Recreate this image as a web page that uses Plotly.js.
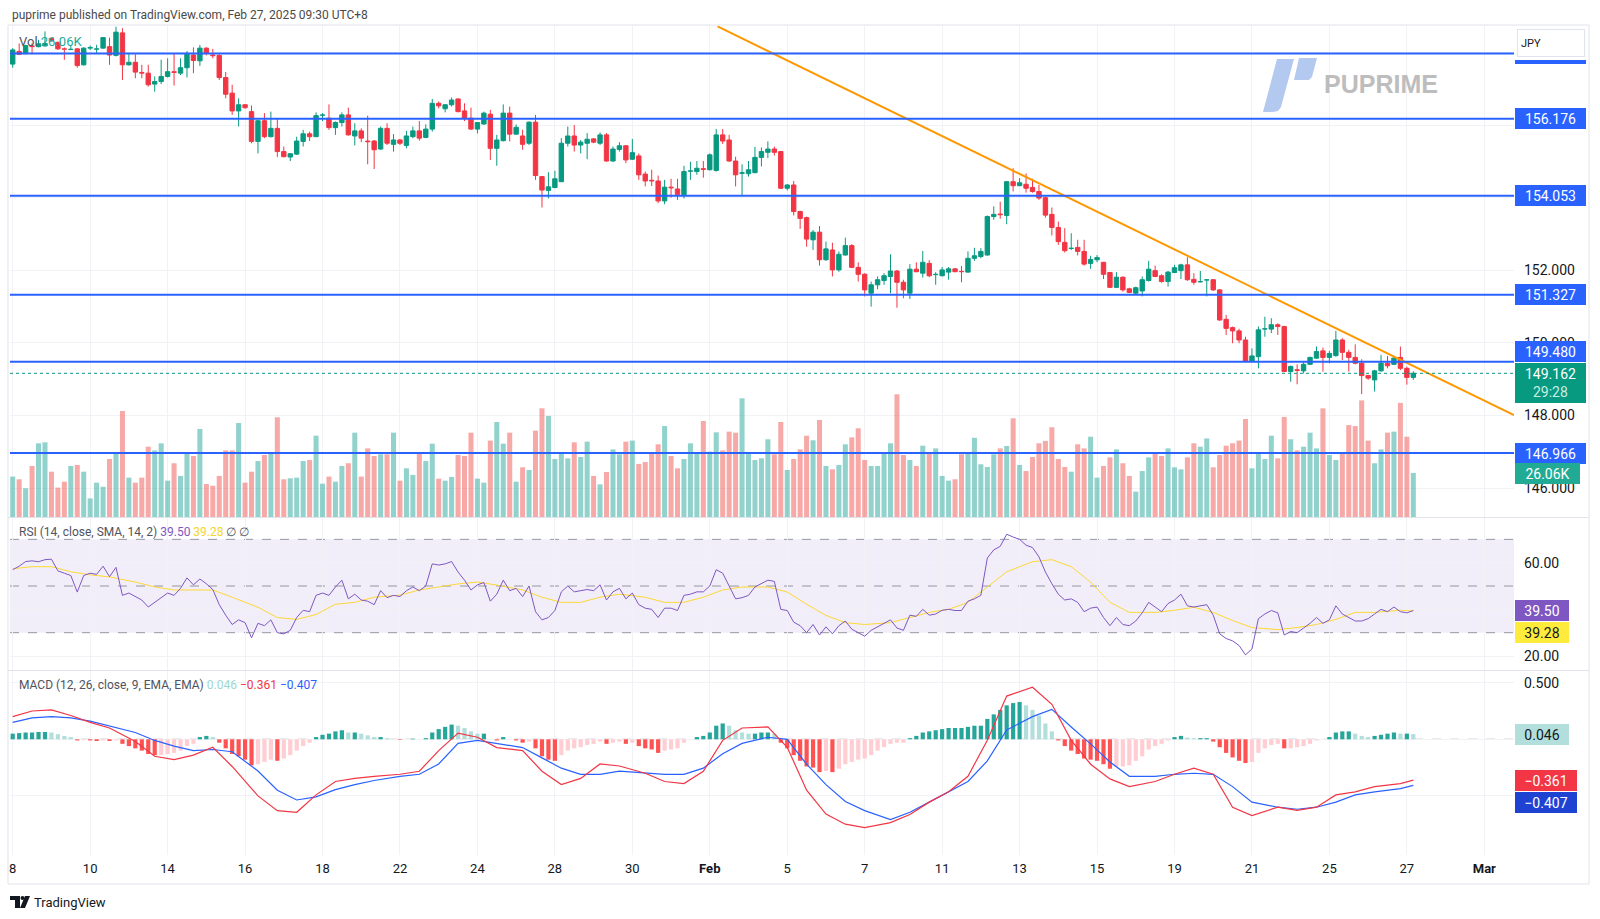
<!DOCTYPE html>
<html><head><meta charset="utf-8">
<script src="https://cdn.plot.ly/plotly-3.0.1.min.js"></script>
<style>html,body{margin:0;padding:0;background:#fff;} #chart{width:1600px;height:919px;}</style>
</head><body><div id="chart"></div>
<script>
// ---------- DATA (USD/JPY 4h candles) ----------
const openP=[157.68,158.03,157.97,158.18,158.16,158.18,158.39,158.28,158.10,158.08,
158.10,157.66,158.12,158.09,158.12,158.16,157.92,158.54,157.66,157.73,
157.45,157.43,157.13,157.20,157.34,157.47,157.43,157.58,157.93,157.77,
158.12,157.93,157.92,157.31,156.88,156.39,156.56,156.37,155.55,156.12,
155.68,155.91,155.27,155.12,155.20,155.55,155.76,155.68,156.27,156.19,
155.93,156.07,156.28,155.70,155.84,155.56,155.56,155.34,155.91,155.47,
155.59,155.44,155.68,155.84,155.66,155.89,156.60,156.45,156.56,156.72,
156.39,156.19,155.89,156.03,156.30,155.36,155.57,156.33,155.75,155.70,
155.50,156.08,154.58,154.20,154.28,154.44,155.50,155.70,155.45,155.50,
155.62,155.50,155.73,155.01,155.33,155.43,155.06,155.15,154.65,154.48,
154.46,153.91,154.29,154.24,154.08,154.73,154.72,154.80,154.77,154.75,
155.73,155.59,155.01,154.67,154.66,154.69,155.11,155.25,155.34,155.27,
154.26,154.35,153.62,153.45,152.84,153.05,152.29,152.56,152.01,152.42,
152.68,152.08,151.89,151.37,151.60,151.72,151.83,151.98,151.67,151.37,
152.03,151.92,152.19,151.88,151.85,151.95,152.04,151.97,151.95,152.33,
152.38,152.42,153.48,153.55,153.51,154.44,154.33,154.37,154.28,154.17,
154.00,153.54,153.18,152.77,152.60,152.63,152.52,152.19,152.29,152.22,
151.94,151.53,151.81,151.49,151.37,151.43,151.72,151.99,151.85,151.69,
151.94,151.99,152.15,151.75,151.68,151.73,151.74,151.46,150.65,150.42,
150.33,150.08,149.50,149.62,150.38,150.38,150.50,150.45,149.21,149.26,
149.23,149.41,149.58,149.78,149.60,149.65,150.08,149.74,149.60,149.44,
149.10,148.98,149.23,149.44,149.41,149.60,149.30,149.05];
const highP=[158.12,158.25,158.21,158.25,158.35,158.58,158.41,158.30,158.14,158.21,
158.12,158.14,158.19,158.21,158.42,158.41,158.71,158.67,157.98,157.95,
157.66,157.66,157.34,157.80,157.84,157.98,157.84,158.04,158.14,158.21,
158.14,158.10,157.95,157.46,157.11,156.74,156.57,156.54,156.14,156.33,
156.37,156.19,155.41,155.22,155.68,155.87,155.82,156.35,156.33,156.57,
156.10,156.35,156.48,156.05,155.91,156.26,155.59,155.96,156.05,155.75,
155.62,155.84,155.96,156.11,156.02,156.72,156.65,156.57,156.76,156.73,
156.60,156.48,156.08,156.37,156.42,155.73,156.57,156.51,156.02,155.87,
156.10,156.28,154.59,154.70,154.74,155.64,155.96,156.00,155.59,155.78,
155.64,155.80,155.78,155.41,155.53,155.45,155.62,155.22,154.72,154.77,
154.61,154.49,154.52,154.52,154.88,154.99,155.01,155.01,155.22,155.89,
155.89,155.73,155.13,154.92,155.01,155.40,155.38,155.55,155.41,155.29,
154.37,154.46,153.64,153.48,153.11,153.22,152.79,152.76,152.52,152.90,
152.72,152.22,151.92,151.69,151.83,151.92,152.44,152.01,151.74,152.17,
152.22,152.53,152.28,151.95,152.09,152.09,152.06,152.12,152.52,152.62,
152.61,153.51,153.76,153.89,154.46,154.81,154.54,154.67,154.52,154.35,
154.03,153.73,153.34,153.16,153.02,152.84,152.84,152.40,152.42,152.23,
151.95,151.95,151.83,151.52,151.55,151.83,152.26,152.13,151.89,151.98,
152.15,152.18,152.36,151.92,151.98,151.76,151.76,151.48,150.77,150.45,
150.39,150.17,149.85,150.45,150.72,150.68,150.54,150.47,149.38,149.41,
149.47,149.62,149.90,149.87,149.78,150.33,150.13,149.81,149.96,149.55,
149.12,149.26,149.67,149.64,149.62,149.90,149.35,149.22];
const lowP=[157.58,157.93,157.95,157.95,158.14,158.16,158.30,158.07,157.80,158.07,
157.58,157.64,158.07,157.98,158.10,157.66,157.89,157.24,157.64,157.29,
157.29,157.06,156.92,157.13,157.31,157.09,157.38,157.31,157.43,157.63,
157.92,157.84,157.24,156.74,156.28,155.96,156.45,155.50,155.22,155.64,
155.66,155.12,155.11,155.01,155.18,155.41,155.56,155.67,156.11,155.87,
155.73,155.96,155.71,155.44,155.53,154.92,154.79,155.32,155.45,155.27,
155.45,155.36,155.64,155.57,155.64,155.82,156.46,156.35,156.51,156.35,
156.11,155.87,155.77,156.01,155.04,154.88,155.55,155.55,155.73,155.32,
155.45,154.49,153.73,153.98,154.26,154.44,155.41,155.27,155.22,155.06,
155.50,155.45,154.99,154.99,155.27,154.95,155.04,154.49,154.31,154.32,
153.85,153.82,154.00,153.94,153.98,154.49,154.63,154.55,154.75,154.72,
155.48,154.99,154.31,154.06,154.58,154.67,154.86,155.09,155.16,154.24,
154.20,153.51,153.14,152.65,152.56,152.13,152.26,151.83,151.96,152.41,
152.06,151.69,151.28,151.00,151.48,151.60,151.37,150.97,151.23,151.21,
151.95,151.80,151.81,151.60,151.83,151.74,151.95,151.67,151.94,152.26,
152.33,152.41,153.39,153.42,153.27,154.17,154.32,154.14,154.14,153.94,
153.45,152.96,152.70,152.49,152.56,152.41,152.13,152.04,152.22,151.76,
151.51,151.51,151.41,151.37,151.34,151.28,151.69,151.81,151.66,151.55,
151.92,151.76,151.71,151.60,151.67,151.28,151.43,150.61,150.22,149.99,
149.99,149.47,149.49,149.30,150.17,150.27,150.22,149.20,148.93,148.86,
149.16,149.39,149.56,149.21,149.44,149.62,149.53,149.21,149.41,148.59,
148.98,148.66,149.21,149.30,149.39,149.25,148.85,148.98];
const closeP=[158.07,157.95,158.19,158.16,158.24,158.25,158.32,158.10,158.09,158.09,
157.64,158.12,158.14,158.10,158.41,157.93,158.56,157.66,157.73,157.46,
157.43,157.11,157.20,157.34,157.47,157.45,157.58,157.95,157.78,158.12,
157.98,157.91,157.31,156.85,156.39,156.56,156.48,155.55,156.12,155.68,
155.91,155.27,155.13,155.21,155.56,155.76,155.68,156.26,156.28,155.93,
156.07,156.28,155.73,155.84,155.64,155.54,155.32,155.91,155.50,155.59,
155.50,155.70,155.84,155.64,155.89,156.60,156.53,156.56,156.69,156.37,
156.19,155.89,156.07,156.33,155.36,155.59,156.33,155.75,155.94,155.47,
156.08,154.61,154.21,154.30,154.52,155.50,155.70,155.45,155.53,155.61,
155.53,155.73,155.01,155.34,155.43,155.04,155.24,154.63,154.46,154.46,
153.91,154.29,154.27,154.09,154.72,154.74,154.81,154.78,155.18,155.73,
155.56,155.01,154.63,154.69,154.77,155.11,155.27,155.34,155.25,154.26,
154.35,153.62,153.43,152.86,153.05,152.29,152.59,152.01,152.44,152.68,
152.08,151.89,151.46,151.60,151.74,151.85,151.98,151.67,151.46,152.03,
151.96,152.22,151.85,151.89,152.01,152.04,151.96,151.96,152.33,152.40,
152.52,153.48,153.54,153.53,154.44,154.33,154.41,154.26,154.17,153.99,
153.52,153.18,152.79,152.54,152.61,152.52,152.17,152.30,152.35,151.89,
151.53,151.81,151.46,151.39,151.52,151.74,152.03,151.83,151.69,151.95,
152.07,152.15,151.74,151.67,151.69,151.74,151.46,150.63,150.40,150.33,
150.08,149.50,149.64,150.36,150.39,150.50,150.45,149.21,149.35,149.24,
149.41,149.60,149.76,149.60,149.71,150.08,149.74,149.60,149.44,149.10,
149.03,149.23,149.44,149.37,149.58,149.30,149.05,149.162];
const volumeK=[23.9,22.3,17.0,30.2,43.6,44.2,26.8,17.4,20.9,30.2,
30.8,26.8,11.0,20.3,17.9,34.3,38.1,62.7,23.3,20.3,
23.3,41.6,39.4,43.6,21.5,31.8,24.3,38.1,36.1,52.1,
19.5,18.5,24.3,39.4,39.4,55.6,20.3,26.8,33.1,36.7,
37.3,59.0,22.3,22.9,23.3,33.1,33.7,48.1,19.7,23.9,
20.9,30.2,31.8,49.9,23.9,40.6,36.1,37.1,37.1,49.9,
21.5,28.8,24.9,38.3,33.1,43.4,22.7,21.5,23.7,36.7,
36.1,49.9,22.7,20.3,45.2,56.2,43.4,49.9,20.9,29.4,
27.8,51.1,64.3,59.8,34.3,38.1,34.7,44.2,35.5,44.6,
24.3,19.3,26.6,40.0,37.1,44.6,45.2,31.4,32.5,38.3,
43.0,53.8,36.1,28.8,34.3,43.6,37.3,56.8,38.7,50.1,
39.4,50.5,49.9,70.2,38.3,33.7,34.7,46.0,37.1,56.2,
27.8,34.3,40.0,48.1,45.4,57.4,30.2,28.2,30.8,43.0,
47.1,52.5,33.7,30.2,30.2,38.3,43.6,72.6,36.7,33.7,
30.2,42.2,38.3,40.6,24.3,21.5,22.3,37.1,38.3,46.9,
31.2,29.6,37.1,40.6,42.0,58.4,30.8,27.2,35.5,43.6,
45.0,53.1,34.3,29.6,26.8,43.0,40.6,47.5,23.3,30.2,
35.3,40.0,31.8,24.3,15.0,27.2,35.3,38.3,36.1,40.6,
29.4,28.2,35.3,43.6,41.6,46.5,29.4,36.7,42.2,43.6,
45.2,58.0,28.8,37.3,34.3,48.1,34.7,59.2,46.0,39.4,
41.6,49.9,40.6,64.3,36.7,33.7,38.3,54.4,53.8,69.0,
45.2,31.8,40.0,49.9,50.5,67.5,47.5,26.06];
const rsi=[57.0,58.5,60.5,60.8,60.4,61.3,61.5,56.5,55.5,54.5,
47.4,54.5,55.5,55.0,58.5,54.0,58.0,46.0,47.0,45.5,
44.0,41.0,43.0,45.0,47.0,46.0,49.0,53.5,50.5,53.0,
51.0,48.5,42.0,37.5,33.5,35.5,34.3,27.8,34.0,33.0,
35.5,30.0,29.5,31.0,36.5,39.6,39.0,46.0,47.0,46.0,
49.6,52.5,44.5,46.5,44.0,43.5,42.0,48.0,45.0,46.0,
45.5,48.0,49.6,48.0,50.0,59.5,59.0,59.5,60.5,56.0,
52.5,48.3,50.5,51.5,43.5,46.5,52.5,48.0,49.0,45.5,
50.0,39.0,35.5,36.5,39.5,47.5,50.0,47.5,48.0,48.5,
48.0,50.5,44.0,47.5,49.0,44.5,47.0,42.0,40.5,40.0,
36.5,40.5,40.5,39.5,46.0,46.5,47.5,47.5,50.0,57.0,
55.5,50.0,44.5,45.0,46.0,49.6,51.0,52.5,52.0,40.0,
39.5,34.5,33.0,30.0,33.5,29.0,32.5,29.5,33.0,35.0,
31.5,30.0,28.5,31.0,32.5,34.0,35.5,32.0,31.0,37.5,
37.0,40.0,37.5,38.0,39.6,40.0,39.5,39.5,43.5,44.5,
46.0,62.0,65.5,67.0,72.2,71.0,70.0,67.5,66.5,62.5,
56.0,51.0,46.5,44.0,44.5,43.0,39.0,40.5,41.0,36.5,
33.0,36.5,33.5,33.0,35.0,38.5,43.0,41.0,39.0,42.5,
44.0,46.5,41.5,41.0,41.5,42.0,37.5,29.5,27.5,26.5,
24.5,20.5,23.0,36.0,38.0,39.5,38.5,29.0,30.5,30.0,
32.0,34.0,36.5,34.0,35.5,41.5,38.0,36.5,35.0,35.0,
36.0,38.0,40.0,39.0,41.0,39.0,38.5,39.5];
const macdHist=[0.05,0.055,0.06,0.06,0.065,0.065,0.06,0.045,0.03,0.02,
-0.01,-0.005,-0.01,-0.015,-0.01,-0.015,-0.01,-0.04,-0.06,-0.08,
-0.1,-0.13,-0.14,-0.14,-0.13,-0.12,-0.1,-0.06,-0.04,0.02,
0.03,0.02,-0.03,-0.08,-0.13,-0.15,-0.18,-0.23,-0.22,-0.2,
-0.18,-0.19,-0.17,-0.14,-0.1,-0.06,-0.03,0.02,0.04,0.05,
0.07,0.08,0.06,0.06,0.05,0.035,0.02,0.02,0.01,0.0,
-0.005,0.0,0.005,0.0,0.01,0.06,0.09,0.11,0.13,0.12,
0.1,0.07,0.05,0.05,0.0,-0.01,0.02,0.0,-0.01,-0.03,
-0.02,-0.08,-0.15,-0.18,-0.19,-0.14,-0.1,-0.08,-0.07,-0.05,
-0.04,-0.02,-0.04,-0.03,-0.02,-0.04,-0.03,-0.06,-0.08,-0.09,
-0.12,-0.1,-0.09,-0.08,-0.03,0.0,0.02,0.03,0.06,0.12,
0.14,0.12,0.08,0.06,0.05,0.05,0.06,0.06,0.05,-0.03,
-0.08,-0.14,-0.19,-0.24,-0.25,-0.29,-0.28,-0.29,-0.26,-0.22,
-0.2,-0.18,-0.17,-0.14,-0.1,-0.07,-0.04,-0.03,-0.03,0.01,
0.03,0.06,0.07,0.08,0.09,0.1,0.1,0.1,0.11,0.12,
0.12,0.18,0.22,0.26,0.3,0.32,0.33,0.3,0.26,0.21,
0.14,0.07,-0.01,-0.06,-0.1,-0.13,-0.17,-0.18,-0.19,-0.22,
-0.26,-0.24,-0.24,-0.23,-0.19,-0.15,-0.09,-0.06,-0.04,-0.01,
0.02,0.03,0.015,0.01,0.01,0.01,-0.02,-0.07,-0.12,-0.16,
-0.19,-0.21,-0.2,-0.12,-0.08,-0.05,-0.04,-0.08,-0.08,-0.07,
-0.06,-0.04,-0.01,0.0,0.02,0.06,0.07,0.07,0.05,0.03,
0.02,0.03,0.04,0.05,0.06,0.05,0.05,0.046];
// smooth indicator lines, read at these candle positions
const indIdx=[0,3,6,9,12,15,19,22,25,28,31,34,38,41,44,47,50,53,56,60,63,66,69,72,75,79,82,85,88,91,94,98,101,104,107,110,113,117,120,123,126,129,132,136,139,142,145,148,151,154,158,161,164,167,170,173,177,180,183,186,189,192,196,199,202,205,208,211,215,217];
const rsiSma=[57.4,58.3,58.3,56.1,54.8,53.9,51.7,49.6,48.3,48.3,48.3,45.2,40.9,36.5,35.7,37.8,42.2,43.0,45.2,46.1,48.3,49.6,50.9,51.7,50.4,48.3,45.2,43.0,43.0,45.2,46.5,45.2,43.0,43.0,45.2,48.3,49.6,49.6,47.4,42.2,37.4,34.3,33.5,34.3,36.5,38.7,40.0,43.0,49.6,56.1,60.4,61.3,58.3,51.7,43.0,38.7,38.7,39.6,40.9,38.7,35.2,32.2,31.3,32.2,33.5,35.7,38.7,38.7,39.6,39.28];
const macdLine=[0.2,0.25,0.26,0.21,0.15,0.1,-0.02,-0.15,-0.18,-0.14,-0.07,-0.24,-0.5,-0.63,-0.645,-0.491,-0.373,-0.345,-0.327,-0.309,-0.282,-0.1,0.055,0.018,-0.073,-0.1,-0.282,-0.4,-0.345,-0.218,-0.236,-0.3,-0.373,-0.391,-0.282,-0.009,0.1,0.109,-0.07,-0.45,-0.66,-0.75,-0.78,-0.736,-0.664,-0.555,-0.464,-0.327,-0.009,0.382,0.46,0.309,-0.009,-0.22,-0.35,-0.418,-0.373,-0.309,-0.255,-0.309,-0.6,-0.673,-0.6,-0.627,-0.6,-0.491,-0.464,-0.418,-0.391,-0.361];
const signalLine=[0.15,0.19,0.2,0.19,0.16,0.12,0.06,-0.01,-0.06,-0.1,-0.09,-0.11,-0.28,-0.45,-0.536,-0.509,-0.445,-0.4,-0.364,-0.327,-0.309,-0.218,-0.036,-0.009,-0.036,-0.073,-0.164,-0.255,-0.309,-0.309,-0.282,-0.3,-0.309,-0.309,-0.255,-0.127,-0.036,0.018,0.0,-0.22,-0.4,-0.55,-0.63,-0.709,-0.645,-0.555,-0.464,-0.373,-0.191,0.082,0.2,0.264,0.109,-0.04,-0.2,-0.327,-0.327,-0.309,-0.3,-0.309,-0.418,-0.555,-0.6,-0.618,-0.6,-0.555,-0.491,-0.464,-0.436,-0.407];
const levels=[157.97,156.176,154.053,151.327,149.480,146.966];
const levelLabels=['157.970','156.176','154.053','151.327','149.480','146.966'];
const trendIdx=[109.2,232.6];
const trendPrice=[158.72,148.01];
const lastPrice=149.162, lastVol=26.06, rsiLast=39.50, smaLast=39.28, histLast=0.046, macdLast=-0.361, sigLast=-0.407;
const tickIdx=[0,12,24,36,48,60,72,84,96,108,120,132,144,156,168,180,192,204,216,228];
const tickLabels=['8','10','14','16','18','22','24','28','30','<b>Feb</b>','5','7','11','13','15','19','21','25','27','<b>Mar</b>'];
const priceTicks=[146,148,150,152,154,156,158];
const priceTickText=['146.000','148.000','150.000','152.000','','',''];
const rsiTicks=[20,40,60], rsiTickText=['20.00','','60.00'];
const macdTicks=[0.5,0,-0.5], macdTickText=['0.500','',''];

// ---------- STYLE ----------
const FONT='Roboto, "Open Sans", sans-serif';
const UP='#089981', DN='#F23645', GRID='#F0F2F6';
const L=10,T=25,W=1504,H=830;
const px2x=p=>(p-L)/W, py2y=p=>(T+H-p)/H;

const n=closeP.length, idx=[...Array(n).keys()];
const isUp=idx.map(i=>closeP[i]>=openP[i]);
const bodyCol=isUp.map(u=>u?UP:DN);

const wickUp={x:[],y:[]}, wickDn={x:[],y:[]};
idx.forEach(i=>{const w=isUp[i]?wickUp:wickDn; w.x.push(i,i,null); w.y.push(lowP[i],highP[i],null);});

const histCol=macdHist.map((h,i)=>{const p=i>0?macdHist[i-1]:h; return h>=0?(h>=p?'#26A69A':'#B2DFDB'):(h<p?'#FF5252':'#FFCDD2');});

const traces=[
 {type:'bar',x:idx,y:volumeK,xaxis:'x',yaxis:'y',width:0.78,marker:{color:isUp.map(u=>u?'rgba(38,166,154,0.5)':'rgba(239,83,80,0.5)'),line:{width:0}}},
 {type:'scatter',mode:'lines',x:wickUp.x,y:wickUp.y,xaxis:'x',yaxis:'y4',line:{color:UP,width:1}},
 {type:'scatter',mode:'lines',x:wickDn.x,y:wickDn.y,xaxis:'x',yaxis:'y4',line:{color:DN,width:1}},
 {type:'bar',x:idx,y:idx.map(i=>Math.abs(closeP[i]-openP[i])),base:idx.map(i=>Math.min(openP[i],closeP[i])),xaxis:'x',yaxis:'y4',width:0.68,marker:{color:bodyCol,line:{color:bodyCol,width:1}}},
 {type:'scatter',mode:'lines',x:trendIdx,y:trendPrice,xaxis:'x',yaxis:'y4',line:{color:'#FF9800',width:2}},
 {type:'scatter',mode:'lines',x:indIdx,y:rsiSma,xaxis:'x',yaxis:'y2',line:{color:'#FDD835',width:1}},
 {type:'scatter',mode:'lines',x:idx,y:rsi,xaxis:'x',yaxis:'y2',line:{color:'#7E57C2',width:1}},
 {type:'bar',x:idx,y:macdHist,xaxis:'x',yaxis:'y3',width:0.65,marker:{color:histCol,line:{width:0}}},
 {type:'scatter',mode:'lines',x:indIdx,y:signalLine,xaxis:'x',yaxis:'y3',line:{color:'#2962FF',width:1.2}},
 {type:'scatter',mode:'lines',x:indIdx,y:macdLine,xaxis:'x',yaxis:'y3',line:{color:'#F23645',width:1.2}}
];

const shapes=[
 {type:'rect',xref:'paper',yref:'y2',x0:0,x1:1,y0:30,y1:70,fillcolor:'rgba(126,87,194,0.1)',line:{width:0},layer:'below'},
 ...[70,50,30].map(v=>({type:'line',xref:'paper',yref:'y2',x0:0,x1:1,y0:v,y1:v,line:{color:'#9598A1',width:1,dash:'dash'},layer:'below'})),
 {type:'line',xref:'paper',yref:'y3',x0:0,x1:1,y0:0,y1:0,line:{color:'#9598A1',width:1,dash:'dash'},layer:'below'},
 {type:'line',xref:'paper',yref:'y4',x0:0,x1:1,y0:lastPrice,y1:lastPrice,line:{color:UP,width:1,dash:'dot'}},
 ...levels.map(v=>({type:'line',xref:'paper',yref:'y4',x0:0,x1:1,y0:v,y1:v,line:{color:'#2962FF',width:2}})),
 {type:'rect',xref:'paper',yref:'paper',x0:px2x(8),x1:px2x(1589),y0:py2y(884),y1:py2y(25),line:{color:'#E0E3EB',width:1}},
 {type:'line',xref:'paper',yref:'paper',x0:px2x(8),x1:px2x(1589),y0:py2y(517.5),y1:py2y(517.5),line:{color:'#E0E3EB',width:1}},
 {type:'line',xref:'paper',yref:'paper',x0:px2x(8),x1:px2x(1589),y0:py2y(670.5),y1:py2y(670.5),line:{color:'#E0E3EB',width:1}}
];
// watermark logo (PU Prime) and TradingView logo, drawn as paths in paper space
function pathOf(pts){return 'M'+pts.map(p=>px2x(p[0]).toFixed(5)+','+py2y(p[1]).toFixed(5)).join(' L')+' Z';}
shapes.push({type:'path',xref:'paper',yref:'paper',path:pathOf([[1277,59],[1294,59],[1281,107],[1278,111],[1273,112],[1263,112]]),fillcolor:'#B4C9EF',line:{width:0}});
shapes.push({type:'path',xref:'paper',yref:'paper',path:pathOf([[1299,58],[1317,58],[1312,77],[1309,80],[1294,80]]),fillcolor:'#B4C9EF',line:{width:0}});
shapes.push({type:'path',xref:'paper',yref:'paper',path:pathOf([[10,896],[20,896],[20,908],[15,908],[15,900],[10,900]]),fillcolor:'#131722',line:{width:0}});
shapes.push({type:'circle',xref:'paper',yref:'paper',x0:px2x(20.5),x1:px2x(24.5),y0:py2y(900),y1:py2y(896),fillcolor:'#131722',line:{width:0}});
shapes.push({type:'path',xref:'paper',yref:'paper',path:pathOf([[25,896],[30,896],[25,908],[20,908]]),fillcolor:'#131722',line:{width:0}});
// top-level price tag: only its lower edge shows below the currency box
shapes.push({type:'rect',xref:'paper',yref:'paper',x0:px2x(1515),x1:px2x(1586),y0:py2y(64),y1:py2y(60),fillcolor:'#2962FF',line:{width:0}});

function badge(yref,y,text,bg,fg,w,h,ys){
 return {xref:'paper',x:px2x(1515),xanchor:'left',yref:yref,y:y,yanchor:'middle',yshift:ys||0,text:text,showarrow:false,
  bgcolor:bg,bordercolor:bg,borderwidth:1,borderpad:2,width:w,height:h,align:'center',font:{family:FONT,size:14,color:fg}};
}
const txt=(x,y,text,size,color,extra)=>Object.assign({xref:'paper',yref:'paper',x:px2x(x),y:py2y(y),xanchor:'left',yanchor:'middle',text:text,showarrow:false,font:{family:FONT,size:size,color:color}},extra||{});

const annotations=[
 {xref:'paper',yref:'paper',x:px2x(1517),y:py2y(43),xanchor:'left',yanchor:'middle',text:'JPY',showarrow:false,align:'left',
  bgcolor:'#fff',bordercolor:'#E0E3EB',borderwidth:1,borderpad:3,width:60,height:20,font:{family:FONT,size:11,color:'#131722'}},
 badge('y4',levels[1],levelLabels[1],'#2962FF','#fff',65,15,0),
 badge('y4',levels[2],levelLabels[2],'#2962FF','#fff',65,15,0),
 badge('y4',levels[3],levelLabels[3],'#2962FF','#fff',65,15,0),
 badge('y4',levels[5],levelLabels[5],'#2962FF','#fff',65,15,0),
 badge('y4',levels[4],levelLabels[4],'#2962FF','#fff',65,15,10),
 badge('y4',lastPrice,lastPrice.toFixed(3)+'<br><span style="color:#C8EDE3">29:28</span>',UP,'#fff',65,34,-10),
 badge('y',lastVol,lastVol.toFixed(2)+'K','#22AB94','#fff',59,15,-1),
 badge('y2',rsiLast,rsiLast.toFixed(2),'#7E57C2','#fff',48,15,0),
 badge('y2',smaLast,smaLast.toFixed(2),'#FFEB3B','#131722',48,15,-21.5),
 badge('y3',histLast,histLast.toFixed(3),'#B2DFDB','#131722',48,15,0),
 badge('y3',macdLast,'\u2212'+Math.abs(macdLast).toFixed(3),'#F23645','#fff',56,15,0),
 badge('y3',sigLast,'\u2212'+Math.abs(sigLast).toFixed(3),'#1E43D2','#fff',56,15,-17),
 txt(10,15,'puprime published on TradingView.com, Feb 27, 2025 09:30 UTC+8',12,'#4A4A4A'),
 txt(17,41,'Vol <span style="color:#22AB94">'+lastVol.toFixed(2)+'K</span>',13,'#50535E'),
 txt(17,532,'RSI (14, close, SMA, 14, 2) <span style="color:#7E57C2">'+rsiLast.toFixed(2)+'</span> <span style="color:#F2D42E">'+smaLast.toFixed(2)+'</span> \u2205 \u2205',12,'#50535E'),
 txt(17,685,'MACD (12, 26, close, 9, EMA, EMA) <span style="color:#9FD8D0">'+histLast.toFixed(3)+'</span> <span style="color:#F23645">\u2212'+Math.abs(macdLast).toFixed(3)+'</span> <span style="color:#2962FF">\u2212'+Math.abs(sigLast).toFixed(3)+'</span>',12,'#50535E'),
 txt(1322,84,'<b>PUPRIME</b>',25,'#BDBDBD',{font:{family:'"Liberation Sans", Arial, sans-serif',size:25,color:'#BDBDBD'}}),
 txt(32,902,'TradingView',13,'#131722')
];

const layout={
 width:1600,height:919,margin:{l:L,r:86,t:T,b:64},paper_bgcolor:'#fff',plot_bgcolor:'#fff',
 showlegend:false,hovermode:false,barmode:'overlay',font:{family:FONT,color:'#131722'},
 xaxis:{domain:[0,1],anchor:'y3',range:[-0.42,232.6],tickmode:'array',tickvals:tickIdx,ticktext:tickLabels,showgrid:true,gridcolor:GRID,
  zeroline:false,showline:false,ticks:'',tickfont:{size:13,color:'#131722'},ticklabelstandoff:4,fixedrange:true},
 yaxis:{domain:[0.40723,1],range:[0,291.1],visible:false,showgrid:false,fixedrange:true},
 yaxis4:{overlaying:'y',side:'right',anchor:'x',range:[145.204,158.757],tickmode:'array',tickvals:priceTicks,ticktext:priceTickText,
  showgrid:true,gridcolor:GRID,zeroline:false,ticks:'',ticklabelstandoff:9,tickfont:{size:14,color:'#131722'},fixedrange:true},
 yaxis2:{domain:[0.22289,0.40602],anchor:'x',side:'right',range:[14.0,79.16],tickmode:'array',tickvals:rsiTicks,ticktext:rsiTickText,
  showgrid:true,gridcolor:GRID,zeroline:false,ticks:'',ticklabelstandoff:9,tickfont:{size:14,color:'#131722'},fixedrange:true},
 yaxis3:{domain:[0,0.22169],anchor:'x',side:'right',range:[-1.0221,0.6034],tickmode:'array',tickvals:macdTicks,ticktext:macdTickText,
  showgrid:true,gridcolor:GRID,zeroline:false,ticks:'',ticklabelstandoff:9,tickfont:{size:14,color:'#131722'},fixedrange:true},
 shapes:shapes,annotations:annotations
};
Plotly.newPlot('chart',traces,layout,{displayModeBar:false,staticPlot:true});
</script></body></html>
